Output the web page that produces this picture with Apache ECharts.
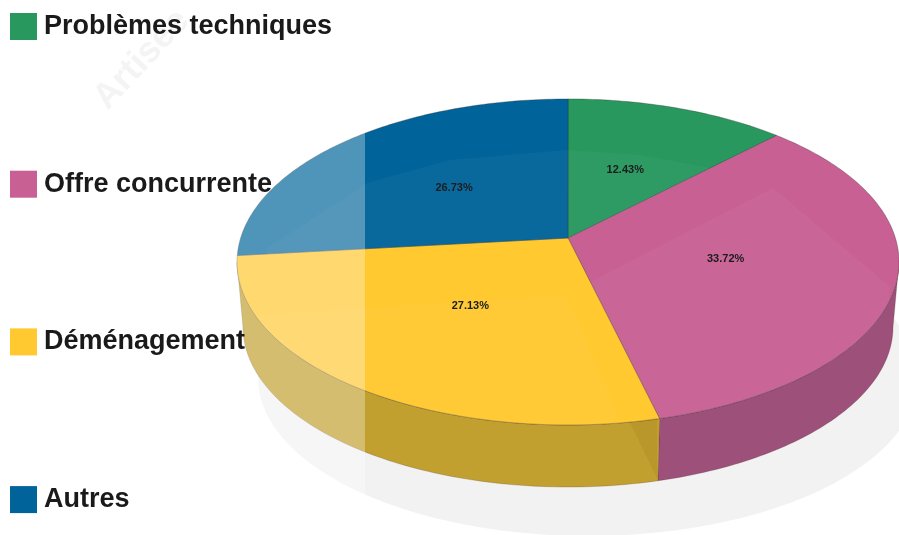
<!DOCTYPE html>
<html>
<head>
<meta charset="utf-8">
<title>Pie</title>
<style>
	html, body { margin: 0; padding: 0; background: #fff; }
	#myChart { width: 899px; height: 535px; }
</style>
<script src="https://cdn.jsdelivr.net/npm/echarts@6/dist/echarts.min.js"></script>
</head>
<body>
<div id="myChart"></div>
<script>
	var categories = ['Problèmes techniques', 'Offre concurrente', 'Déménagement', 'Autres'];
	var values = [12.43, 33.72, 27.13, 26.73];
	var topColors = ['#28985f', '#c86094', '#ffc92f', '#00649a'];
	var wallColors = ['#1c6b43', '#9d5079', '#c2a030', '#004a72'];

	var font = '"Liberation Sans", Arial, sans-serif';
	var cx = 568, b = 327.4, a = 159.5, k = -0.147;
	var topY = 238, bottomY = 303.4, bottomScale = 0.982;
	var wallFrom = 98.5, wallTo = 261.5;

	// the disc is seen in perspective, so a point on it goes through this projection
	function project(deg, r, y0, s) {
		var t = deg * Math.PI / 180;
		var u = Math.sin(t) * r, v = -Math.cos(t) * r;
		var d = 1 + k * v;
		return [cx + s * b * u / d, y0 + s * a * v / d];
	}
	function rim(deg) {
		return project(deg, 1, topY, 1);
	}
	function arcPoints(from, to, y0, s) {
		var pts = [];
		for (var d = from; d < to; d += 1) {
			pts.push(project(d, 1, y0, s));
		}
		pts.push(project(to, 1, y0, s));
		return pts;
	}
	function startAngle(i) {
		var sum = 0, total = 0;
		for (var n = 0; n < values.length; n++) {
			if (n < i) sum += values[n];
			total += values[n];
		}
		return sum / total * 360;
	}

	function renderSlice(i) {
		return function (params, api) {
			var from = startAngle(i);
			var to = from + api.value(0) / 100 * 360;
			var children = [];
			var wFrom = Math.max(from, wallFrom), wTo = Math.min(to, wallTo);
			if (wFrom < wTo) {
				var wall = arcPoints(wFrom, wTo, topY, 1).concat(arcPoints(wFrom, wTo, bottomY, bottomScale).reverse());
				children.push({
					type: 'polygon',
					shape: { points: wall },
					style: { fill: wallColors[i], stroke: 'rgba(60,40,20,0.35)', lineWidth: 0.6 }
				});
			}
			var top = [[cx, topY]].concat(arcPoints(from, to, topY, 1));
			children.push({
				type: 'polygon',
				shape: { points: top },
				style: { fill: topColors[i], stroke: 'rgba(40,40,40,0.45)', lineWidth: 0.7 }
			});
			return { type: 'group', children: children };
		};
	}

	function renderShadow() {
		var pts = [];
		for (var d = 0; d < 360; d += 2) {
			var t = d * Math.PI / 180;
			pts.push([588 + 330 * Math.cos(t), 378 + 158 * Math.sin(t)]);
		}
		return { type: 'polygon', shape: { points: pts }, style: { fill: '#f2f2f2' } };
	}

	function renderOverlay() {
		var soft = 'rgba(255,255,255,0.035)';
		var children = [
			{
				type: 'polygon',
				shape: { points: [[267, 254], [267, 248], [367, 183], [450, 160], [567, 150], [640, 155], [710, 168], [cx, topY]] },
				style: { fill: soft }
			},
			{
				type: 'polygon',
				shape: { points: [[590, 282], [773, 188], [890, 287]].concat(arcPoints(112, 166.1, topY, 1)) },
				style: { fill: soft }
			},
			{
				type: 'polygon',
				shape: { points: [[255, 316], [450, 302], [567, 295]].concat(arcPoints(172, 243, topY, 1)) },
				style: { fill: soft }
			},
			{
				type: 'polygon',
				shape: { points: [[630, 423], [657, 478], [657, 418]] },
				style: { fill: 'rgba(120,90,0,0.12)' }
			},
			// lighter band over the left part of the picture
			{
				type: 'rect',
				shape: { x: 0, y: 0, width: 365, height: 535 },
				style: { fill: 'rgba(255,255,255,0.31)' }
			}
		];
		for (var i = 0; i < values.length; i++) {
			var from = startAngle(i);
			var mid = from + values[i] / 100 * 180;
			var p = project(mid, 0.49, topY, 1);
			children.push({
				type: 'text',
				style: {
					text: values[i].toFixed(2) + '%',
					x: p[0], y: p[1],
					align: 'center', verticalAlign: 'middle',
					font: 'bold 11px ' + font,
					fill: '#1c1c1c'
				}
			});
		}
		return { type: 'group', children: children };
	}

	var series = [{
		type: 'custom',
		name: 'shadow',
		coordinateSystem: 'none',
		silent: true,
		z: 1,
		data: [[0]],
		renderItem: renderShadow
	}];
	for (var i = 0; i < categories.length; i++) {
		series.push({
			type: 'custom',
			name: categories[i],
			coordinateSystem: 'none',
			silent: true,
			z: 2,
			itemStyle: { color: topColors[i] },
			data: [[values[i]]],
			renderItem: renderSlice(i)
		});
	}
	series.push({
		type: 'custom',
		name: 'overlay',
		coordinateSystem: 'none',
		silent: true,
		z: 3,
		data: [[0]],
		renderItem: renderOverlay
	});

	var option = {
		animation: false,
		backgroundColor: '#fff',
		legend: {
			orient: 'vertical',
			left: 10,
			top: 13,
			padding: 0,
			z: 10,
			itemWidth: 27,
			itemHeight: 27,
			itemGap: 130.7,
			icon: 'rect',
			selectedMode: false,
			data: categories,
			textStyle: {
				fontFamily: font,
				fontWeight: 'bold',
				fontSize: 27,
				color: '#1a1a1a',
				padding: [3, 0, 0, 2]
			}
		},
		graphic: [{
			type: 'text',
			x: 87,
			y: 92,
			rotation: 47 * Math.PI / 180,
			z: 0,
			silent: true,
			style: {
				text: 'Artisee',
				font: 'bold 36px ' + font,
				fill: '#f0f0f0'
			}
		}],
		series: series
	};

	var myChart = echarts.init(document.getElementById('myChart'));
	myChart.setOption(option);
</script>
</body>
</html>
